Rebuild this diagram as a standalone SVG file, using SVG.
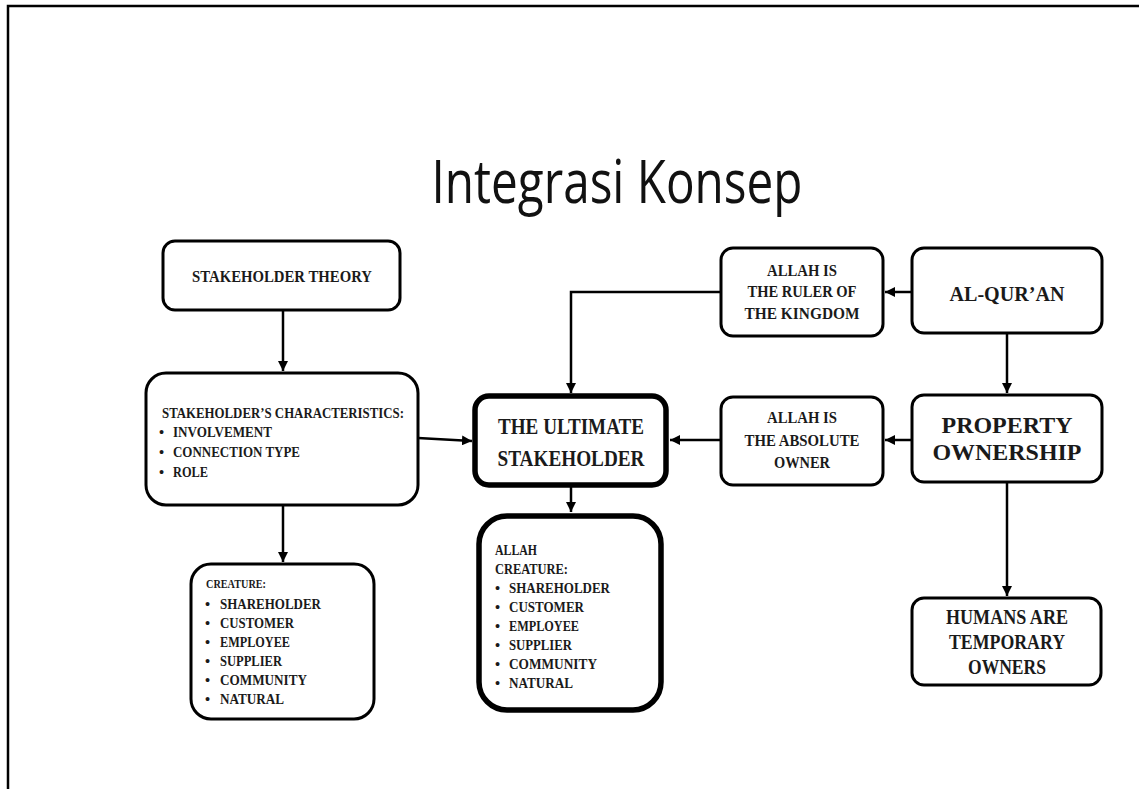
<svg xmlns="http://www.w3.org/2000/svg" width="1139" height="789" viewBox="0 0 1139 789">
<style>
.box{fill:#fff;stroke:#000;stroke-width:3}
.bold{fill:#fff;stroke:#000;stroke-width:5.5}
.t{font-family:"Liberation Serif","DejaVu Serif",serif;font-weight:bold;fill:#1a1a1a}
.s{font-size:14.5px}
.m{font-size:16.5px}
.l{font-size:23px}
.c{text-anchor:middle}
.con{fill:none;stroke:#000;stroke-width:2.5}
</style>
<defs>
<marker id="ah" viewBox="0 0 10 10" refX="10" refY="5" markerWidth="4" markerHeight="4" orient="auto" markerUnits="strokeWidth">
<path d="M0,0 L10,5 L0,10 Z" fill="#000"/>
</marker>
</defs>
<rect width="1139" height="789" fill="#fff"/>
<path d="M8,789 V6 H1139" fill="none" stroke="#000" stroke-width="2.5"/>
<text x="617" y="203" font-family="'Open Sans','Liberation Sans',sans-serif" font-weight="400" font-size="61" text-anchor="middle" textLength="371" lengthAdjust="spacingAndGlyphs" fill="#111">Integrasi Konsep</text>

<g id="connectors">
<path class="con" d="M283,310 V371" marker-end="url(#ah)"/>
<path class="con" d="M418,438 L472,441" marker-end="url(#ah)"/>
<path class="con" d="M571,486 V512" marker-end="url(#ah)"/>
<path class="con" d="M283,505 V562" marker-end="url(#ah)"/>
<path class="con" d="M721,292 H571 V393" marker-end="url(#ah)"/>
<path class="con" d="M912,292 H885" marker-end="url(#ah)"/>
<path class="con" d="M1007,333 V393" marker-end="url(#ah)"/>
<path class="con" d="M912,440 H885" marker-end="url(#ah)"/>
<path class="con" d="M721,440 H670" marker-end="url(#ah)"/>
<path class="con" d="M1007,482 V596" marker-end="url(#ah)"/>
</g>

<g id="stakeholder-theory">
<rect class="box" x="163" y="241" width="237" height="69" rx="12"/>
<text class="t m c" x="282" y="282" textLength="180" lengthAdjust="spacingAndGlyphs">STAKEHOLDER THEORY</text>
</g>

<g id="characteristics">
<rect class="box" x="146" y="373" width="272" height="132" rx="20"/>
<text class="t s" x="162" y="418" textLength="242" lengthAdjust="spacingAndGlyphs">STAKEHOLDER’S CHARACTERISTICS:</text>
<text class="t s" x="159" y="437">•</text><text class="t s" x="173" y="437" textLength="99" lengthAdjust="spacingAndGlyphs">INVOLVEMENT</text>
<text class="t s" x="159" y="457">•</text><text class="t s" x="173" y="457" textLength="127" lengthAdjust="spacingAndGlyphs">CONNECTION TYPE</text>
<text class="t s" x="159" y="477">•</text><text class="t s" x="173" y="477" textLength="35" lengthAdjust="spacingAndGlyphs">ROLE</text>
</g>

<g id="creature">
<rect class="box" x="191" y="564" width="183" height="155" rx="20"/>
<text class="t" x="206" y="588" font-size="12.5" textLength="60" lengthAdjust="spacingAndGlyphs">CREATURE:</text>
<text class="t s" x="205" y="609">•</text><text class="t s" x="220" y="609" textLength="101" lengthAdjust="spacingAndGlyphs">SHAREHOLDER</text>
<text class="t s" x="205" y="628">•</text><text class="t s" x="220" y="628" textLength="74" lengthAdjust="spacingAndGlyphs">CUSTOMER</text>
<text class="t s" x="205" y="647">•</text><text class="t s" x="220" y="647" textLength="70" lengthAdjust="spacingAndGlyphs">EMPLOYEE</text>
<text class="t s" x="205" y="666">•</text><text class="t s" x="220" y="666" textLength="62" lengthAdjust="spacingAndGlyphs">SUPPLIER</text>
<text class="t s" x="205" y="685">•</text><text class="t s" x="220" y="685" textLength="87" lengthAdjust="spacingAndGlyphs">COMMUNITY</text>
<text class="t s" x="205" y="704">•</text><text class="t s" x="220" y="704" textLength="64" lengthAdjust="spacingAndGlyphs">NATURAL</text>
</g>

<g id="ultimate">
<rect class="bold" x="475" y="396" width="191" height="89" rx="14"/>
<text class="t l c" x="571" y="434" textLength="146" lengthAdjust="spacingAndGlyphs">THE ULTIMATE</text>
<text class="t l c" x="571" y="466" textLength="147" lengthAdjust="spacingAndGlyphs">STAKEHOLDER</text>
</g>

<g id="allah-creature">
<rect class="bold" x="479" y="516" width="182" height="194" rx="28"/>
<text class="t s" x="495" y="555" textLength="42" lengthAdjust="spacingAndGlyphs">ALLAH</text>
<text class="t s" x="495" y="574" textLength="73" lengthAdjust="spacingAndGlyphs">CREATURE:</text>
<text class="t s" x="495" y="593">•</text><text class="t s" x="509" y="593" textLength="101" lengthAdjust="spacingAndGlyphs">SHAREHOLDER</text>
<text class="t s" x="495" y="612">•</text><text class="t s" x="509" y="612" textLength="75" lengthAdjust="spacingAndGlyphs">CUSTOMER</text>
<text class="t s" x="495" y="631">•</text><text class="t s" x="509" y="631" textLength="70" lengthAdjust="spacingAndGlyphs">EMPLOYEE</text>
<text class="t s" x="495" y="650">•</text><text class="t s" x="509" y="650" textLength="63" lengthAdjust="spacingAndGlyphs">SUPPLIER</text>
<text class="t s" x="495" y="669">•</text><text class="t s" x="509" y="669" textLength="88" lengthAdjust="spacingAndGlyphs">COMMUNITY</text>
<text class="t s" x="495" y="688">•</text><text class="t s" x="509" y="688" textLength="64" lengthAdjust="spacingAndGlyphs">NATURAL</text>
</g>

<g id="ruler">
<rect class="box" x="721" y="248" width="162" height="88" rx="12"/>
<text class="t m c" x="802" y="276" textLength="70" lengthAdjust="spacingAndGlyphs">ALLAH IS</text>
<text class="t m c" x="802" y="297" textLength="109" lengthAdjust="spacingAndGlyphs">THE RULER OF</text>
<text class="t m c" x="802" y="319" textLength="115" lengthAdjust="spacingAndGlyphs">THE KINGDOM</text>
</g>

<g id="alquran">
<rect class="box" x="912" y="248" width="190" height="85" rx="12"/>
<text class="t c" x="1007" y="301" font-size="22" textLength="115" lengthAdjust="spacingAndGlyphs">AL-QUR’AN</text>
</g>

<g id="absolute-owner">
<rect class="box" x="721" y="397" width="162" height="88" rx="12"/>
<text class="t m c" x="802" y="423" textLength="70" lengthAdjust="spacingAndGlyphs">ALLAH IS</text>
<text class="t m c" x="802" y="446" textLength="115" lengthAdjust="spacingAndGlyphs">THE ABSOLUTE</text>
<text class="t m c" x="802" y="468" textLength="56" lengthAdjust="spacingAndGlyphs">OWNER</text>
</g>

<g id="property">
<rect class="box" x="912" y="395" width="190" height="87" rx="12"/>
<text class="t l c" x="1007" y="433" textLength="131" lengthAdjust="spacingAndGlyphs">PROPERTY</text>
<text class="t l c" x="1007" y="460" textLength="149" lengthAdjust="spacingAndGlyphs">OWNERSHIP</text>
</g>

<g id="humans">
<rect class="box" x="912" y="598" width="189" height="87" rx="12"/>
<text class="t c" x="1007" y="624" font-size="20" textLength="122" lengthAdjust="spacingAndGlyphs">HUMANS ARE</text>
<text class="t c" x="1007" y="649" font-size="20" textLength="116" lengthAdjust="spacingAndGlyphs">TEMPORARY</text>
<text class="t c" x="1007" y="674" font-size="20" textLength="78" lengthAdjust="spacingAndGlyphs">OWNERS</text>
</g>
</svg>
